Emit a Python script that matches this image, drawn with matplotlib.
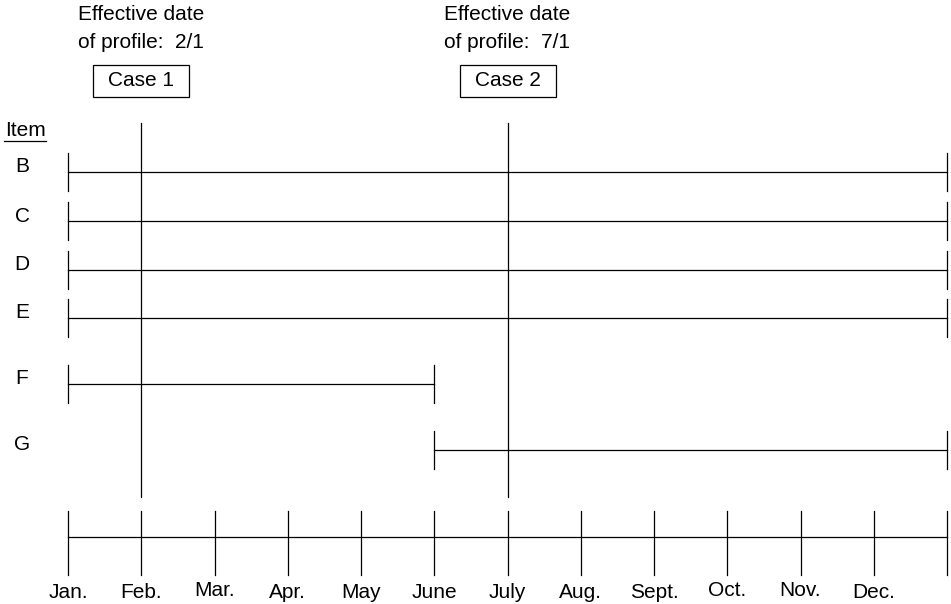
import matplotlib
matplotlib.use("Agg")
import matplotlib.pyplot as plt
from matplotlib.patches import Rectangle

# ---- data ----
months = ["Jan.", "Feb.", "Mar.", "Apr.", "May", "June", "July",
          "Aug.", "Sept.", "Oct.", "Nov.", "Dec."]
items = ["B", "C", "D", "E", "F", "G"]
item_start = [0, 0, 0, 0, 0, 5]      # month index where item period starts
item_end = [12, 12, 12, 12, 5, 12]   # month index where item period ends
case_labels = ["Case 1", "Case 2"]
case_dates = ["2/1", "7/1"]
case_month = [1, 6]                  # Feb, July

# ---- layout (pixel-like y coordinates) ----
row_y = [172, 221, 270, 318, 384, 450]
label_dy = [0, 0, -3, 0, 0, 0, 0, 0, 0, -3, -3, 0]

plt.rcParams['font.family'] = ['Liberation Sans', 'DejaVu Sans']
fig = plt.figure(figsize=(9.51, 6.04), dpi=100)
ax = fig.add_axes([0, 0, 1, 1])
ppm = 879 / 12.0
ax.set_xlim(-68 / ppm, 12 + 4 / ppm)
ax.set_ylim(604, 0)
ax.axis("off")

lw = 0.9
fs = 15

# item label header
ax.text(-63 / ppm, 130, "Item", fontsize=fs, ha="left", va="center")
ax.plot([-64 / ppm, -22 / ppm], [141, 141], color="black", lw=lw)

# item rows
for name, s, e, y in zip(items, item_start, item_end, row_y):
    ax.text(-46 / ppm, y - 5, name, fontsize=fs, ha="center", va="center")
    ax.plot([s, e], [y, y], color="black", lw=lw)
    for xx in (s, e):
        ax.plot([xx, xx], [y - 19, y + 19], color="black", lw=lw)

# case vertical lines and annotations
for lab, d, m in zip(case_labels, case_dates, case_month):
    ax.plot([m, m], [123, 497], color="black", lw=lw)
    ax.text(m, 15, "Effective date", fontsize=fs, ha="center", va="center")
    ax.text(m, 42, "of profile:  " + d, fontsize=fs, ha="center", va="center")
    ax.add_patch(Rectangle((m - 48 / ppm, 65), 96 / ppm, 32, fill=False,
                           ec="black", lw=lw))
    ax.text(m, 81, lab, fontsize=fs, ha="center", va="center")

# bottom timeline
ax.plot([0, 12], [537, 537], color="black", lw=lw)
for i in range(13):
    ax.plot([i, i], [511, 575], color="black", lw=lw)
for i, mname in enumerate(months):
    ax.text(i, 593 + label_dy[i], mname, fontsize=fs, ha="center", va="center")

fig.savefig("out.png", dpi=100)
